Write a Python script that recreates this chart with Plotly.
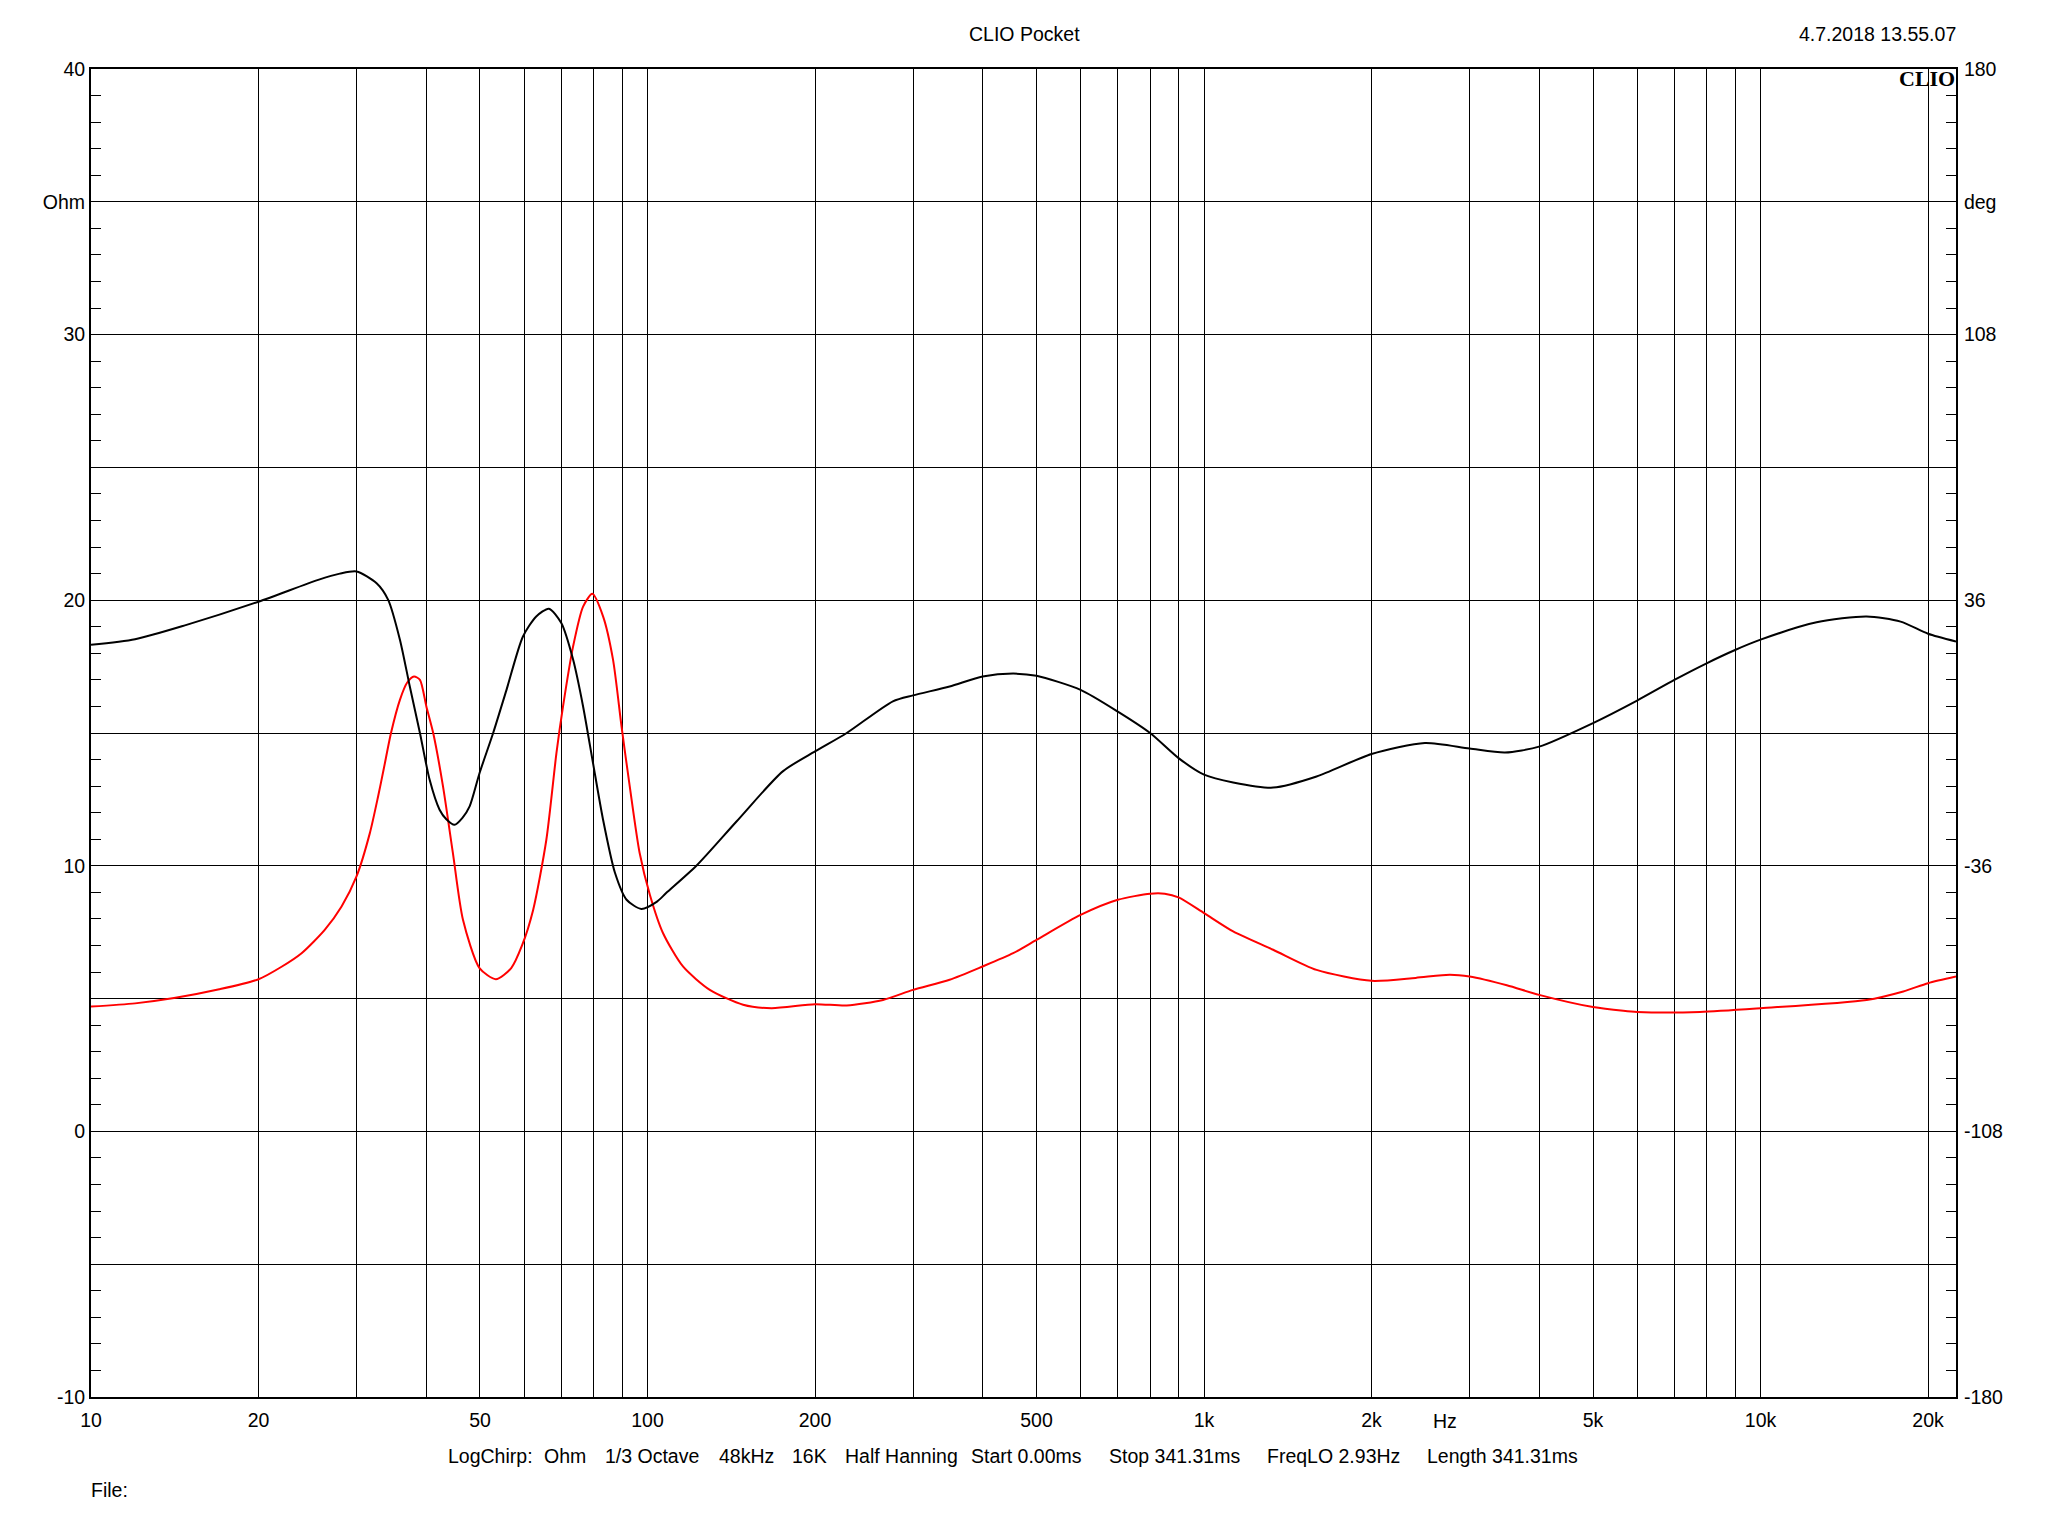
import numpy as np
import plotly.graph_objects as go

# ---------------- data ----------------
# Red trace: impedance magnitude (Ohm, left axis)
imp_freq = [10, 12, 14.1, 17, 20, 22, 23.9, 26.3, 28.2, 30, 31.7, 32.8, 33.6, 34.6, 35.9, 37, 38.05,
            39, 40.05, 41.2, 42.9, 44.7, 46.6, 49.9, 53.4, 56.9, 59.5, 62.3, 65.8, 68.6, 70.5, 73.5,
            76.6, 79.6, 83.2, 86.7, 89.8, 92.9, 96.8, 101, 106.6, 115.8, 129.4, 148.5, 167, 200, 228,
            265, 300, 349, 400, 454, 500, 600, 700, 800, 850, 900, 1000, 1128, 1331, 1593, 2000, 2400,
            2765, 3000, 3500, 4000, 5000, 5668, 6000, 7782, 10000, 15510, 18050, 20000, 22450]
imp_ohm = [4.70, 4.82, 5.02, 5.35, 5.73, 6.2, 6.71, 7.59, 8.47, 9.6, 11.23, 12.61, 13.68, 15.0, 16.25,
           16.9, 17.13, 17.0, 16.0, 15.0, 13.0, 10.48, 7.97, 6.15, 5.73, 6.15, 7.0, 8.34, 10.98, 14.24,
           16.0, 18.26, 19.76, 20.24, 19.39, 17.76, 15.25, 13.0, 10.48, 8.9, 7.47, 6.21, 5.33, 4.77, 4.64,
           4.79, 4.74, 4.95, 5.33, 5.71, 6.21, 6.71, 7.21, 8.15, 8.72, 8.95, 8.95, 8.81, 8.22, 7.53, 6.84,
           6.08, 5.67, 5.78, 5.90, 5.83, 5.5, 5.14, 4.68, 4.54, 4.50, 4.50, 4.64, 4.95, 5.27, 5.58, 5.83]

# Black trace: impedance phase (deg, right axis)
ph_freq = [10, 12, 14.7, 20, 25.6, 28, 30, 32.6, 34.2, 35.9, 37.4, 39, 40.6, 42.3, 43.5, 45, 46.5,
           47.9, 49.9, 52.8, 55.8, 59.7, 63.1, 66.5, 70, 73.5, 76.6, 79.8, 83.2, 87.4, 91.7, 97.5, 104,
           108, 122.4, 144.5, 175, 200, 228, 276, 300, 349, 400, 454, 500, 600, 700, 800, 900, 1000,
           1128, 1331, 1593, 2000, 2494, 3000, 3473, 4000, 5000, 6000, 7000, 8000, 9000, 10000, 12610,
           15510, 17850, 20000, 22450]
ph_deg = [23.9, 25.4, 29.1, 35.6, 41.5, 43.2, 43.8, 40.6, 36.1, 25.3, 12.6, 0.0, -12.7, -20.8, -23.4,
          -24.9, -23.0, -19.9, -10.9, 0.0, 11.7, 26.1, 31.6, 33.7, 29.8, 19.9, 7.2, -8.1, -23.5, -37.9,
          -45.2, -47.7, -45.7, -43.4, -36.0, -24.0, -10.4, -5.0, 0.0, 8.6, 10.2, 12.6, 15.3, 16.1, 15.5,
          11.7, 5.8, 0.0, -6.8, -11.3, -13.4, -14.8, -11.8, -5.7, -2.7, -4.2, -5.3, -3.7, 2.7, 8.8,
          14.4, 18.9, 22.5, 25.3, 30.0, 31.6, 30.2, 26.9, 24.8]

# axis ticks
x_major_vals = [10, 20, 50, 100, 200, 500, 1000, 2000, 5000, 10000, 20000]
x_major_text = ["10", "20", "50", "100", "200", "500", "1k", "2k", "5k", "10k", "20k"]
x_minor_vals = [30, 40, 60, 70, 80, 90, 300, 400, 600, 700, 800, 900,
                3000, 4000, 6000, 7000, 8000, 9000]
y_left_vals = [-10, -5, 0, 5, 10, 15, 20, 25, 30, 35, 40]
y_left_text = ["-10", "", "0", "", "10", "", "20", "", "30", "Ohm", "40"]
y_right_vals = [-180, -108, -36, 36, 108, 144, 180]
y_right_text = ["-180", "-108", "-36", "36", "108", "deg", "180"]

title_text = "CLIO Pocket"
date_text = "4.7.2018 13.55.07"
info_items = ["LogChirp:", "Ohm", "1/3 Octave", "48kHz", "16K", "Half Hanning",
              "Start 0.00ms", "Stop 341.31ms", "FreqLO 2.93Hz", "Length 341.31ms"]

# ---------------- layout helpers ----------------
FW, FH = 2048, 1536
OFF = 8  # page body margin in the browser
# target plot area in window pixels: x 91..1956.5, y 69..1397.5
L = 91 - OFF
T = 69 - OFF
W = 1865
H = 1328
R = FW - L - W
B = FH - T - H


def px(x):
    return (x - OFF - L) / W


def py(y):
    return (T + H - (y - OFF)) / H


FONT = "Arial, Liberation Sans, sans-serif"
FS = 19.5

fig = go.Figure()
fig.add_trace(go.Scatter(x=ph_freq, y=ph_deg, mode="lines", yaxis="y2",
                         line=dict(color="#000000", width=2, shape="spline", smoothing=0.7),
                         showlegend=False, hoverinfo="skip"))
fig.add_trace(go.Scatter(x=imp_freq, y=imp_ohm, mode="lines",
                         line=dict(color="#ff0000", width=2, shape="spline", smoothing=0.7),
                         showlegend=False, hoverinfo="skip"))

fig.update_layout(
    width=FW, height=FH,
    margin=dict(l=L, r=R, t=T, b=B, pad=0),
    paper_bgcolor="white", plot_bgcolor="white",
    font=dict(family=FONT, size=FS, color="black"),
    xaxis=dict(type="log", range=[1, np.log10(22450)],
               tickmode="array", tickvals=x_major_vals, ticktext=x_major_text,
               showgrid=True, gridcolor="black", gridwidth=1,
               minor=dict(tickmode="array", tickvals=x_minor_vals, showgrid=True,
                          gridcolor="black", gridwidth=1, ticks=""),
               ticks="", showline=True, linecolor="black", linewidth=2, mirror=True,
               zeroline=False, ticklabelstandoff=5,
               tickfont=dict(family=FONT, size=FS, color="black")),
    yaxis=dict(range=[-10, 40], tickmode="array", tickvals=y_left_vals, ticktext=y_left_text,
               showgrid=True, gridcolor="black", gridwidth=1,
               ticks="inside", ticklen=10, tickcolor="black", tickwidth=1,
               minor=dict(dtick=1, tick0=0, ticks="inside", ticklen=10, tickcolor="black",
                          tickwidth=1, showgrid=False),
               showline=True, linecolor="black", linewidth=2, mirror=True,
               zeroline=False, ticklabelstandoff=0,
               tickfont=dict(family=FONT, size=FS, color="black")),
    yaxis2=dict(range=[-180, 180], overlaying="y", side="right",
                tickmode="array", tickvals=y_right_vals, ticktext=y_right_text,
                showgrid=False, zeroline=False,
                ticks="inside", ticklen=10, tickcolor="black", tickwidth=1,
                minor=dict(dtick=7.2, tick0=0, ticks="inside", ticklen=10, tickcolor="black",
                           tickwidth=1, showgrid=False),
                showline=True, linecolor="black", linewidth=2,
                ticklabelstandoff=2,
                tickfont=dict(family=FONT, size=FS, color="black")),
)

ann = []
ann.append(dict(text=title_text, x=px(1024), y=py(34), xanchor="center", yanchor="middle"))
ann.append(dict(text=date_text, x=px(1958), y=py(34), xanchor="right", yanchor="middle"))
ann.append(dict(text="<b>CLIO</b>", x=px(1957), y=py(79), xanchor="right", yanchor="middle",
                font=dict(family="Liberation Serif, Times New Roman, serif", size=22, color="black")))
ann.append(dict(text="Hz", x=px(1445), y=py(1421), xanchor="center", yanchor="middle"))
info_x = [446, 542, 603, 717, 790, 843, 969, 1107, 1265, 1425]
for t, xx in zip(info_items, info_x):
    ann.append(dict(text=t, x=px(xx), y=py(1456), xanchor="left", yanchor="middle"))
ann.append(dict(text="File:", x=px(89), y=py(1490), xanchor="left", yanchor="middle"))

for a in ann:
    a.update(xref="paper", yref="paper", showarrow=False)
    if "font" not in a:
        a["font"] = dict(family=FONT, size=FS, color="black")
fig.update_layout(annotations=ann)

fig.write_html("out.html")
